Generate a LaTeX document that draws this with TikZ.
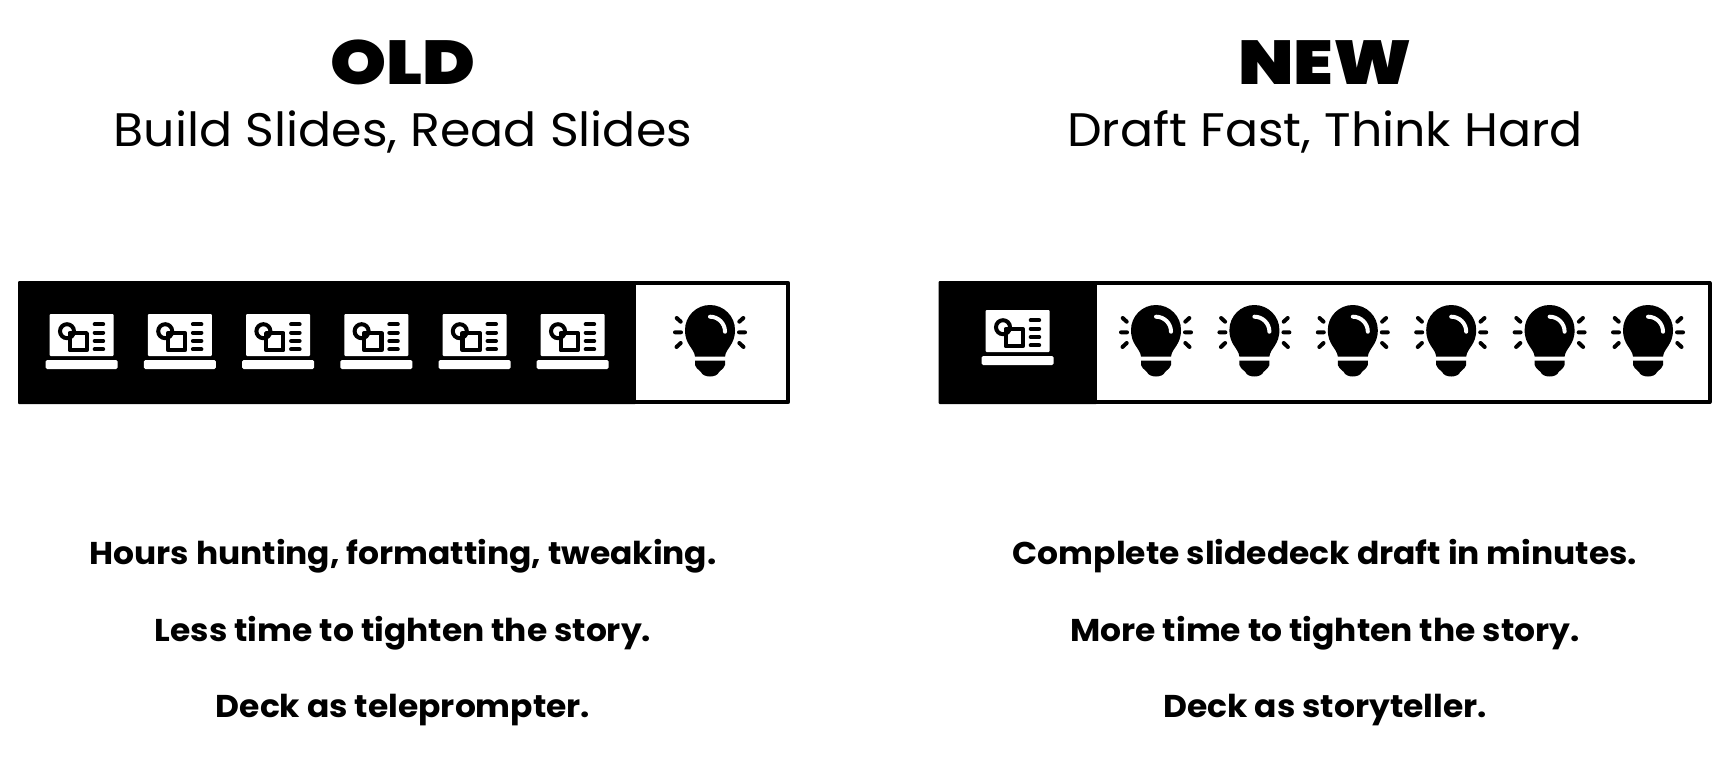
\documentclass[tikz,border=0pt]{standalone}
\usepackage{fontspec}
\setmainfont{Poppins}
\newfontfamily\heavyf[FakeStretch=1.15]{Poppins Black}
\newfontfamily\subf[FakeStretch=1.043]{Poppins}
\newfontfamily\bodyf[FakeStretch=1.045]{Poppins Bold}
\tikzset{
  x=1pt,y=-1pt,
  titletext/.style={font=\heavyf\fontsize{62}{62}\selectfont,anchor=center,inner sep=0pt},
  subtext/.style={font=\subf\fontsize{47}{50}\selectfont,anchor=center,inner sep=0pt},
  bodytext/.style={font=\bodyf\fontsize{31.5}{32}\selectfont,anchor=center,inner sep=0pt},
  barframe/.style={draw=black,line width=4pt,line join=round,fill=white},
  laptop/.pic={
    \fill[white,rounded corners=1pt] (-32,0) rectangle (32,42);
    \fill[white,rounded corners=1.5pt] (-36,46) rectangle (36,55);
    \draw[black,line width=4.2pt,line join=round] (-12,19.1) rectangle (5.2,36.2);
    \draw[black,line width=4pt] (-14.7,17.2) circle (7);
    \draw[black,line width=4pt,line cap=round] (13,10.3)--(21.5,10.3) (13,18.7)--(21.5,18.7) (13,27)--(21.5,27) (13,35.3)--(21.5,35.3);
  },
  bulb/.pic={
    \fill[black] (-15,51.5) .. controls (-16,43) and (-25,40) .. (-25,25) arc[start angle=180,end angle=360,radius=25] .. controls (25,40) and (16,43) .. (15,51.5) -- cycle;
    \fill[black] (-15,55.6) -- (15,55.6) -- (15,60) .. controls (13,65) and (10,65) .. (9,67) .. controls (7,73) and (-7,73) .. (-9,67) .. controls (-10,65) and (-13,65) .. (-15,60) -- cycle;
    \draw[white,line width=4pt,line cap=round] (0,11.7) arc[start angle=270,end angle=360,radius=15];
    \draw[black,line width=4pt,line cap=round]
      (-33.3,13)--(-29.3,16.7) (-35,27.3)--(-29,27.3) (-33.5,42)--(-29.3,38)
      (33.3,13)--(29.3,16.7) (35,27.3)--(29,27.3) (33.5,42)--(29.3,38);
  }
}
\begin{document}
\begin{tikzpicture}
\useasboundingbox (0,0) rectangle (1728,768);
\node[titletext] (oldtitle) at (403,62.5) {OLD};
\node[subtext] (oldsub) at (403,132) {Build Slides, Read Slides};
\node[titletext] (newtitle) at (1325,62.5) {NEW};
\node[subtext] (newsub) at (1325,132) {Draft Fast, Think Hard};
% old bar
\fill[black,rounded corners=1pt] (18,281) rectangle (636,404);
\path[barframe] (633.5,282.7) -- (788,282.7) -- (788,402.3) -- (633.5,402.3) -- cycle;
\foreach \i in {0,...,5} \pic at ({81.7+98.2*\i},314) {laptop};
\pic at (710,305) {bulb};
% new bar
\fill[black,rounded corners=1pt] (938.5,281) rectangle (1097,404);
\path[barframe] (1095,282.7) -- (1709.5,282.7) -- (1709.5,402.3) -- (1095,402.3) -- cycle;
\pic at (1017.7,310) {laptop};
\foreach \i in {0,...,5} \pic at ({1156+98.4*\i},305) {bulb};
\node[bodytext] (o1) at (403,556) {Hours hunting, formatting, tweaking.};
\node[bodytext] (o2) at (403,633) {Less time to tighten the story.};
\node[bodytext] (o3) at (403,710) {Deck as teleprompter.};
\node[bodytext] (n1) at (1325,556) {Complete slidedeck draft in minutes.};
\node[bodytext] (n2) at (1325,633) {More time to tighten the story.};
\node[bodytext] (n3) at (1325,710) {Deck as storyteller.};
\end{tikzpicture}
\end{document}
